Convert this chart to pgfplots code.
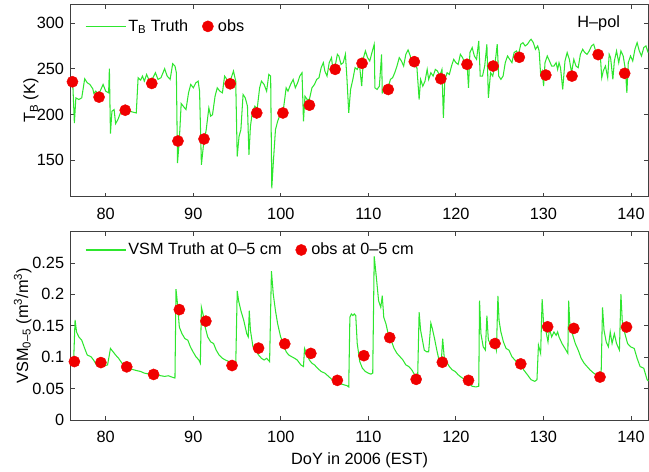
\documentclass[border=0pt]{standalone}
\usepackage{fontspec}
\setmainfont{Liberation Sans}
\usepackage{pgfplots}
\pgfplotsset{compat=1.18}
\definecolor{tgreen}{HTML}{2EE62E}
\definecolor{obsred}{HTML}{F00000}

\pgfplotstableread{
day T
76.00 240.0
76.21 240.1
76.42 190.6
76.59 218.1
76.93 216.3
77.26 218.1
77.60 239.0
77.89 234.6
78.19 232.8
78.52 228.0
78.65 222.9
78.86 225.4
79.20 221.8
79.70 232.8
80.00 225.4
80.33 223.6
80.42 250.0
80.54 178.9
80.71 203.5
80.96 205.3
81.13 189.9
81.39 194.3
81.68 201.6
81.89 205.3
82.10 203.5
82.31 207.1
82.73 203.5
83.15 202.4
83.49 201.6
83.70 240.1
83.99 237.5
84.20 241.9
84.41 236.4
84.67 243.7
84.92 238.3
85.26 237.5
85.68 245.6
85.97 238.3
86.31 240.1
86.73 250.0
87.02 241.9
87.36 238.3
87.65 255.5
87.91 252.9
88.07 245.6
88.20 146.7
88.41 172.3
88.62 211.9
88.92 208.2
89.17 205.3
89.46 223.6
89.71 232.8
90.01 229.1
90.30 234.6
90.56 236.4
90.72 225.4
90.93 144.8
91.15 165.0
91.48 183.3
91.78 207.1
91.99 198.0
92.20 199.8
92.49 219.9
92.74 229.1
93.04 225.4
93.33 223.6
93.58 241.9
93.84 238.3
94.09 234.6
94.34 240.1
94.59 247.4
94.85 236.4
95.02 154.0
95.23 176.0
95.44 183.3
95.69 221.8
95.94 218.1
96.19 209.0
96.36 155.8
96.53 187.0
96.74 201.6
97.04 209.0
97.29 205.3
97.58 229.1
97.79 236.4
98.09 232.8
98.38 225.4
98.63 243.7
98.84 241.9
98.97 119.2
99.14 146.7
99.39 183.3
99.64 192.5
99.98 201.6
100.27 203.5
100.61 229.1
100.82 225.4
101.12 232.8
101.41 238.3
101.66 229.1
101.92 234.6
102.17 241.9
102.42 245.6
102.59 192.5
102.76 219.9
103.01 216.3
103.26 216.3
103.56 229.1
103.85 232.8
104.10 238.3
104.36 240.1
104.61 251.1
104.86 256.6
105.03 247.4
105.28 241.9
105.53 256.6
105.79 262.1
105.95 249.2
106.21 252.9
106.46 265.7
106.63 263.9
106.88 254.7
107.13 256.6
107.38 265.7
107.55 240.1
107.76 201.6
107.97 227.3
108.23 238.3
108.48 251.1
108.73 249.2
108.98 254.7
109.24 230.9
109.45 262.1
109.66 269.4
109.91 262.1
110.16 258.4
110.41 267.6
110.67 276.7
110.75 229.1
111.00 227.3
111.26 230.9
111.51 265.7
111.59 223.6
111.84 227.3
112.10 223.6
112.26 229.1
112.52 238.3
112.77 240.1
113.02 245.6
113.27 252.9
113.53 262.1
113.78 258.4
114.03 252.9
114.28 265.7
114.54 270.5
114.79 263.9
115.04 252.9
115.29 252.9
115.55 251.1
115.80 216.3
115.97 238.3
116.22 230.9
116.47 236.4
116.72 249.2
116.89 238.3
117.14 245.6
117.40 241.9
117.65 249.2
117.90 247.4
118.15 241.9
118.41 249.2
118.57 196.1
118.74 238.3
119.00 245.6
119.25 243.7
119.50 252.9
119.75 260.2
120.00 256.6
120.26 254.7
120.51 265.7
120.76 262.1
121.02 256.6
121.27 256.6
121.44 229.1
121.60 267.6
121.86 273.1
122.11 263.9
122.36 260.2
122.61 280.4
122.78 241.9
123.04 241.9
123.29 252.9
123.54 276.7
123.71 218.1
123.96 245.6
124.21 241.9
124.46 254.7
124.72 276.7
124.89 241.9
125.14 238.3
125.39 241.9
125.64 256.6
125.90 263.9
126.15 260.2
126.40 256.6
126.65 267.6
126.91 269.4
127.16 265.7
127.41 276.7
127.66 278.5
127.91 274.9
128.17 276.7
128.42 280.4
128.59 282.2
128.84 278.5
129.09 271.2
129.34 274.9
129.51 269.4
129.68 243.7
129.85 247.4
130.02 230.9
130.18 256.6
130.44 263.9
130.69 258.4
130.94 252.9
131.20 252.9
131.45 256.6
131.62 249.2
131.78 256.6
131.95 251.1
132.20 227.3
132.46 258.4
132.71 267.6
132.96 260.2
133.21 245.6
133.47 260.2
133.72 252.9
133.97 251.1
134.22 265.7
134.48 271.2
134.73 267.6
134.98 265.7
135.23 269.4
135.49 274.9
135.74 276.7
135.91 271.2
136.16 265.7
136.50 263.9
136.66 240.1
136.83 247.4
137.08 252.9
137.34 240.1
137.51 265.7
137.67 262.1
137.93 238.3
138.10 258.4
138.35 269.4
138.60 256.6
138.85 269.4
139.11 263.9
139.36 249.2
139.53 223.6
139.69 256.6
139.95 263.9
140.20 258.4
140.45 271.2
140.70 278.5
140.95 269.4
141.20 263.9
141.46 273.1
141.71 274.9
141.96 267.6
}\tbtruth

\pgfplotstableread{
day T
76.20 235.7
79.24 218.9
82.23 204.6
85.26 233.9
88.25 170.9
91.23 173.1
94.22 233.5
97.25 201.6
100.24 201.6
103.27 210.1
106.21 249.3
109.28 255.9
112.27 227.3
115.25 257.7
118.28 239.0
121.27 254.8
124.26 252.9
127.24 262.5
130.27 243.0
133.26 241.9
136.25 265.4
139.28 244.9
}\tbobs

\pgfplotstableread{
day v
76.00 0.0930
76.21 0.0950
76.34 0.0955
76.50 0.1594
76.67 0.1400
76.93 0.1322
77.26 0.1270
77.60 0.1139
77.89 0.1034
78.31 0.1008
78.61 0.0955
78.94 0.0877
79.37 0.0851
79.79 0.0861
80.21 0.0877
80.38 0.1008
80.54 0.1139
80.84 0.1086
81.13 0.1034
81.47 0.0982
81.81 0.0913
82.10 0.0851
82.52 0.0840
82.94 0.0809
83.49 0.0788
83.99 0.0772
84.41 0.0746
85.05 0.0730
85.68 0.0720
86.31 0.0704
86.73 0.0694
87.15 0.0704
87.57 0.0683
87.91 0.0667
88.03 0.2081
88.20 0.1846
88.41 0.1479
88.71 0.1374
89.04 0.1296
89.38 0.1270
89.67 0.1165
89.97 0.1086
90.30 0.1008
90.64 0.0955
90.81 0.0903
90.93 0.1793
91.15 0.1662
91.36 0.1479
91.65 0.1322
91.99 0.1243
92.32 0.1217
92.62 0.1112
92.95 0.1034
93.33 0.0982
93.67 0.0955
94.09 0.0929
94.51 0.0877
94.85 0.0851
95.02 0.2055
95.18 0.1898
95.44 0.1741
95.77 0.1584
96.11 0.1374
96.28 0.1322
96.40 0.1741
96.53 0.1427
96.82 0.1165
97.12 0.1112
97.46 0.1034
97.79 0.0982
98.09 0.0955
98.38 0.0982
98.72 0.0929
98.93 0.2369
99.14 0.2002
99.39 0.1741
99.64 0.1531
99.98 0.1322
100.32 0.1217
100.61 0.1086
100.91 0.1034
101.24 0.1008
101.58 0.0982
101.87 0.0955
102.29 0.0877
102.59 0.0851
102.71 0.1139
102.93 0.1060
103.26 0.0955
103.56 0.0903
103.85 0.0877
104.19 0.0824
104.61 0.0772
105.03 0.0746
105.45 0.0694
105.87 0.0641
106.29 0.0615
106.71 0.0589
107.13 0.0563
107.55 0.0547
107.76 0.0526
107.89 0.1636
108.06 0.1688
108.23 0.1662
108.39 0.1688
108.56 0.1662
108.73 0.1217
109.02 0.0929
109.32 0.0824
109.66 0.0772
109.99 0.0746
110.29 0.0730
110.50 0.0746
110.67 0.2605
110.92 0.2264
111.17 0.1898
111.42 0.1793
111.59 0.1977
111.76 0.1636
112.01 0.1531
112.26 0.1374
112.60 0.1270
112.94 0.1139
113.27 0.1060
113.61 0.1008
113.95 0.0955
114.28 0.0877
114.62 0.0851
114.96 0.0798
115.29 0.0720
115.63 0.0667
115.80 0.1715
115.97 0.1427
116.18 0.1270
116.39 0.1112
116.64 0.1086
116.89 0.1086
117.14 0.1542
117.31 0.1453
117.56 0.1296
117.82 0.1112
118.07 0.0955
118.32 0.0903
118.49 0.1296
118.66 0.1008
118.91 0.0929
119.25 0.0851
119.58 0.0798
119.92 0.0772
120.26 0.0720
120.59 0.0683
121.02 0.0641
121.44 0.0589
121.86 0.0537
122.28 0.0526
122.61 0.0537
122.70 0.1898
122.86 0.1374
123.12 0.1165
123.37 0.1112
123.54 0.1662
123.71 0.1270
123.96 0.1217
124.21 0.1270
124.46 0.1217
124.63 0.1112
124.80 0.1977
124.93 0.1584
125.14 0.1401
125.43 0.1243
125.73 0.1139
126.06 0.1112
126.40 0.1008
126.73 0.0955
127.07 0.0903
127.41 0.0877
127.74 0.0798
128.17 0.0720
128.59 0.0641
129.01 0.0615
129.26 0.0641
129.43 0.1191
129.68 0.1060
129.85 0.1924
130.02 0.1531
130.27 0.1427
130.52 0.1243
130.69 0.1453
130.94 0.1322
131.20 0.1401
131.45 0.1348
131.62 0.1401
131.78 0.1322
132.12 0.1217
132.46 0.1139
132.79 0.1060
132.88 0.1898
133.05 0.1427
133.30 0.1374
133.64 0.1217
133.97 0.1112
134.31 0.0982
134.65 0.0903
134.98 0.0851
135.32 0.0798
135.74 0.0746
136.16 0.0704
136.58 0.0667
136.75 0.1793
136.92 0.1427
137.17 0.1243
137.42 0.1165
137.63 0.1401
137.84 0.1217
138.10 0.1374
138.35 0.1217
138.68 0.1112
138.85 0.2002
139.02 0.1531
139.31 0.1374
139.61 0.1217
139.95 0.1165
140.37 0.1139
140.70 0.0982
141.04 0.0851
141.46 0.0824
141.84 0.0641
142.00 0.0620
}\vsmtruth

\pgfplotstableread{
day v
76.42 0.0930
79.45 0.0914
82.40 0.0846
85.47 0.0725
88.41 0.1757
91.44 0.1573
94.43 0.0867
97.46 0.1144
100.45 0.1212
103.43 0.1060
106.46 0.0631
109.49 0.1024
112.44 0.1311
115.46 0.0647
118.45 0.0919
121.44 0.0631
124.47 0.1217
127.41 0.0893
130.48 0.1484
133.47 0.1458
136.46 0.0683
139.49 0.1479
}\vsmobs

\begin{document}
\fontsize{16.3bp}{19.5bp}\selectfont
\begin{tikzpicture}
\useasboundingbox (0,0) rectangle (649bp,472bp);
\pgfplotsset{
  myaxis/.style={
    scale only axis,
    width=577.8bp,
    xmin=76, xmax=142,
    xtick={80,90,...,140},
    tick align=inside,
    major tick length=4bp,
    axis line style={black!75, line width=0.8bp},
    every tick/.style={black!75, line width=0.8bp},
    /pgf/number format/assume math mode=true,
    xticklabel style={yshift=-5.5bp},
    yticklabel style={xshift=-1bp},
    clip=false,
    legend style={draw=none, fill=none, legend columns=-1,
      anchor=north west,
      /tikz/every even column/.append style={column sep=12bp},
      /tikz/column 3/.style={column sep=2.5bp}},
  },
  truthline/.style={tgreen, line width=1.05bp, no marks,
    legend image code/.code={\draw[##1, line width=1.05bp] (0bp,0bp) -- (40bp,0bp);}},
  obsdots/.style={only marks, mark=*, mark size=5.6bp,
    mark options={draw=obsred, fill=obsred},
    legend image code/.code={\draw[##1] plot coordinates {(6bp,0bp)};}},
}
% top panel
\begin{axis}[myaxis,
  at={(70.7bp,275.3bp)}, anchor=south west,
  height=192bp,
  ymin=110, ymax=320,
  ytick={150,200,250,300},
  ylabel={T\textsubscript{B} (K)},
  ylabel style={at={(axis description cs:-0.0687,0.5)}, anchor=center},
  legend style={at={(axis description cs:0.0196,0.946)}},
]
\addplot[truthline] table[x=day,y=T] {\tbtruth};
\addlegendentry{T\textsubscript{B} Truth}
\addplot[obsdots] table[x=day,y=T] {\tbobs};
\addlegendentry{obs}
\node[anchor=north east, inner sep=0pt] at (axis description cs:0.951,0.942) {H\textendash pol};
\end{axis}
% bottom panel
\begin{axis}[myaxis,
  at={(70.7bp,52bp)}, anchor=south west,
  height=188.5bp,
  ymin=0, ymax=0.3,
  ytick={0,0.05,0.1,0.15,0.2,0.25},
  yticklabels={0,0.05,0.1,0.15,0.2,0.25},
  ylabel={VSM\textsubscript{0\textendash5} (m\textsuperscript{3}/m\textsuperscript{3})},
  ylabel style={at={(axis description cs:-0.083,0.5)}, anchor=center},
  xlabel={DoY in 2006 (EST)},
  xlabel style={at={(axis description cs:0.5,-0.212)}, anchor=center},
  legend style={at={(axis description cs:0.0196,0.962)}},
]
\addplot[truthline] table[x=day,y=v] {\vsmtruth};
\addlegendentry{VSM Truth at 0\textendash5 cm}
\addplot[obsdots] table[x=day,y=v] {\vsmobs};
\addlegendentry{obs at 0\textendash5 cm}
\end{axis}
\end{tikzpicture}
\end{document}
